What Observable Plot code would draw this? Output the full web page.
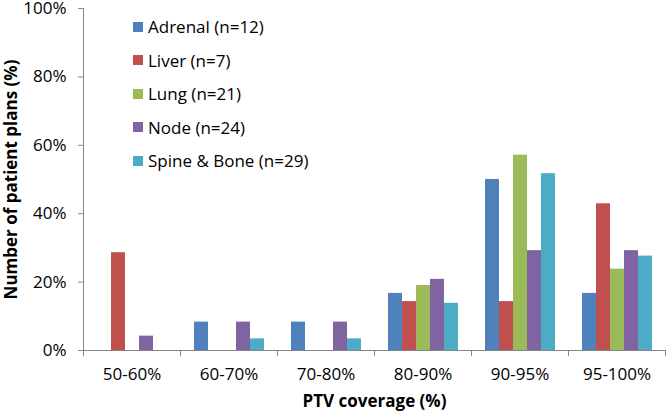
<!DOCTYPE html>
<html><head><meta charset="utf-8">
<script src="https://cdn.jsdelivr.net/npm/d3@7"></script>
<script src="https://cdn.jsdelivr.net/npm/@observablehq/plot@0.6"></script>
<style>
body{margin:0;background:#fff;}
#chart{position:relative;width:669px;height:412px;font-family:"Open Sans",sans-serif;}
#legend{position:absolute;left:133px;top:10px;font-size:17px;color:#000;}
.row{display:flex;align-items:center;height:33.5px;white-space:nowrap;}
.sw{width:10px;height:10px;margin-right:5px;flex:none;}
g[aria-label="fx-axis label"] text, g[aria-label="y-axis label"] text{font-weight:bold;}
</style></head><body><div id="chart"><div id="legend"></div></div>
<script>
const categories = ["50-60%","60-70%","70-80%","80-90%","90-95%","95-100%"];
const seriesNames = ["Adrenal (n=12)","Liver (n=7)","Lung (n=21)","Node (n=24)","Spine & Bone (n=29)"];
const colors = ["#4F81BD","#C0504D","#9BBB59","#8064A2","#4BACC6"];
const adrenal = [0, 8.3, 8.3, 16.7, 50.0, 16.7];
const liver   = [28.6, 0, 0, 14.3, 14.3, 42.9];
const lung    = [0, 0, 0, 19.0, 57.1, 23.8];
const node    = [4.2, 8.3, 8.3, 20.8, 29.2, 29.2];
const spine   = [0, 3.4, 3.4, 13.8, 51.7, 27.6];
const yTicks = [0, 20, 40, 60, 80, 100];
const xTitle = "PTV coverage (%)";
const yTitle = "Number of patient plans (%)";

const values = [adrenal, liver, lung, node, spine];
const data = categories.flatMap((c, i) => seriesNames.map((s, j) => ({category: c, series: s, value: values[j][i]})));

const gray = "#868686";
const W = 669, H = 412, mT = 8, mB = 62, mL = 80, mR = 2;
const plotH = H - mT - mB;

const plot = Plot.plot({
  width: W, height: H, marginLeft: mL, marginRight: mR, marginTop: mT, marginBottom: mB,
  style: {fontFamily: "'Open Sans', sans-serif", fontSize: "17px", background: "white", color: "black", overflow: "visible"},
  fx: {domain: categories, paddingInner: 0, paddingOuter: 0, label: null},
  x: {domain: seriesNames, paddingInner: 0, paddingOuter: 0.76, axis: null},
  y: {domain: [0, 100], axis: null},
  color: {domain: seriesNames, range: colors},
  marks: [
    Plot.barY(data, {fx: "category", x: "series", y: "value", fill: "series"}),
    Plot.ruleY([0], {stroke: gray}),
    Plot.frame({anchor: "left", stroke: gray, insetTop: plotH, insetBottom: -5}),
    Plot.frame({anchor: "right", stroke: gray, insetTop: plotH, insetBottom: -5, facet: "super"}),
    Plot.frame({anchor: "left", stroke: gray, insetBottom: -5, facet: "super"}),
    Plot.axisY({ticks: yTicks, tickFormat: d => d + "%", tickSize: 5, tickPadding: 12, stroke: gray, fill: "black",
      label: yTitle, labelAnchor: "center", labelOffset: 79, labelArrow: "none"}),
    Plot.axisFx({anchor: "bottom", tickSize: 0, tickPadding: 17, label: xTitle, labelAnchor: "center", labelOffset: 56, labelArrow: "none"})
  ]
});
document.getElementById("chart").prepend(plot);

const legend = document.getElementById("legend");
seriesNames.forEach((s, j) => {
  const row = document.createElement("div");
  row.className = "row";
  const sw = document.createElement("span");
  sw.className = "sw";
  sw.style.background = colors[j];
  const t = document.createElement("span");
  t.textContent = s;
  row.append(sw, t);
  legend.append(row);
});
</script></body></html>
